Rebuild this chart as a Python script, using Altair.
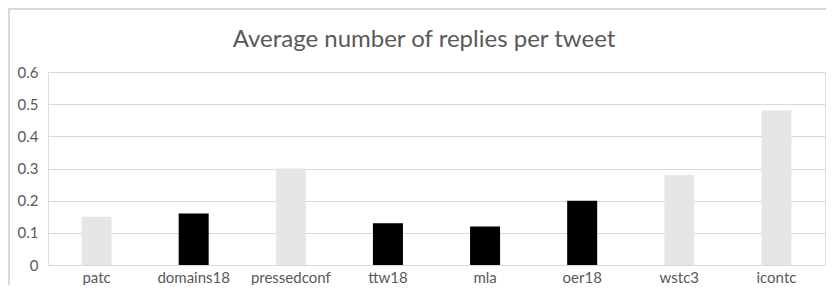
import altair as alt
import pandas as pd

events = ["patc", "domains18", "pressedconf", "ttw18", "mla", "oer18", "wstc3", "icontc"]
replies = [0.15, 0.16, 0.30, 0.13, 0.12, 0.20, 0.28, 0.48]
highlighted = ["domains18", "ttw18", "mla", "oer18"]
y_ticks = [0, 0.1, 0.2, 0.3, 0.4, 0.5, 0.6]
title_text = "Average number of replies per tweet"

df = pd.DataFrame({"event": events, "replies": replies})
title_df = pd.DataFrame({"t": [title_text]})

FONT = "Lato"
TXT = "#595959"
GRID = "#d9d9d9"

bars = alt.Chart(df).mark_bar(size=30).encode(
    x=alt.X("event:N", sort=events, title=None,
            scale=alt.Scale(paddingInner=0.69, paddingOuter=0.345),
            axis=alt.Axis(labelAngle=0, ticks=False, domain=True, domainColor=GRID,
                          labelColor=TXT, labelFont=FONT, labelFontSize=15, labelPadding=5)),
    y=alt.Y("replies:Q", title=None,
            scale=alt.Scale(domain=[0, 0.6], nice=False),
            axis=alt.Axis(values=y_ticks, format="~g", ticks=False, domain=False,
                          gridColor=GRID, labelColor=TXT, labelFont=FONT,
                          labelFontSize=15, labelPadding=10)),
    color=alt.condition(alt.FieldOneOfPredicate(field="event", oneOf=highlighted),
                        alt.value("#000000"), alt.value("#e7e6e6")),
)

border = alt.Chart(title_df).mark_rect(fill=None, stroke="#d9d9d9", strokeWidth=2, clip=False).encode(
    x=alt.value(-39), x2=alt.value(900), y=alt.value(-63), y2=alt.value(300)
)

title = alt.Chart(title_df).mark_text(font=FONT, fontSize=24, color=TXT, align="center",
                                      baseline="alphabetic").encode(
    text="t:N", x=alt.value(376), y=alt.value(-25)
)

chart = alt.layer(border, bars, title).properties(
    width=777, height=193,
    autosize=alt.AutoSizeParams(type="none"),
    padding={"left": 40, "top": 64, "right": 1, "bottom": 20},
).configure_view(stroke=None).configure(background="white")

chart.save("out.html", embed_options={"renderer": "svg", "actions": False})
